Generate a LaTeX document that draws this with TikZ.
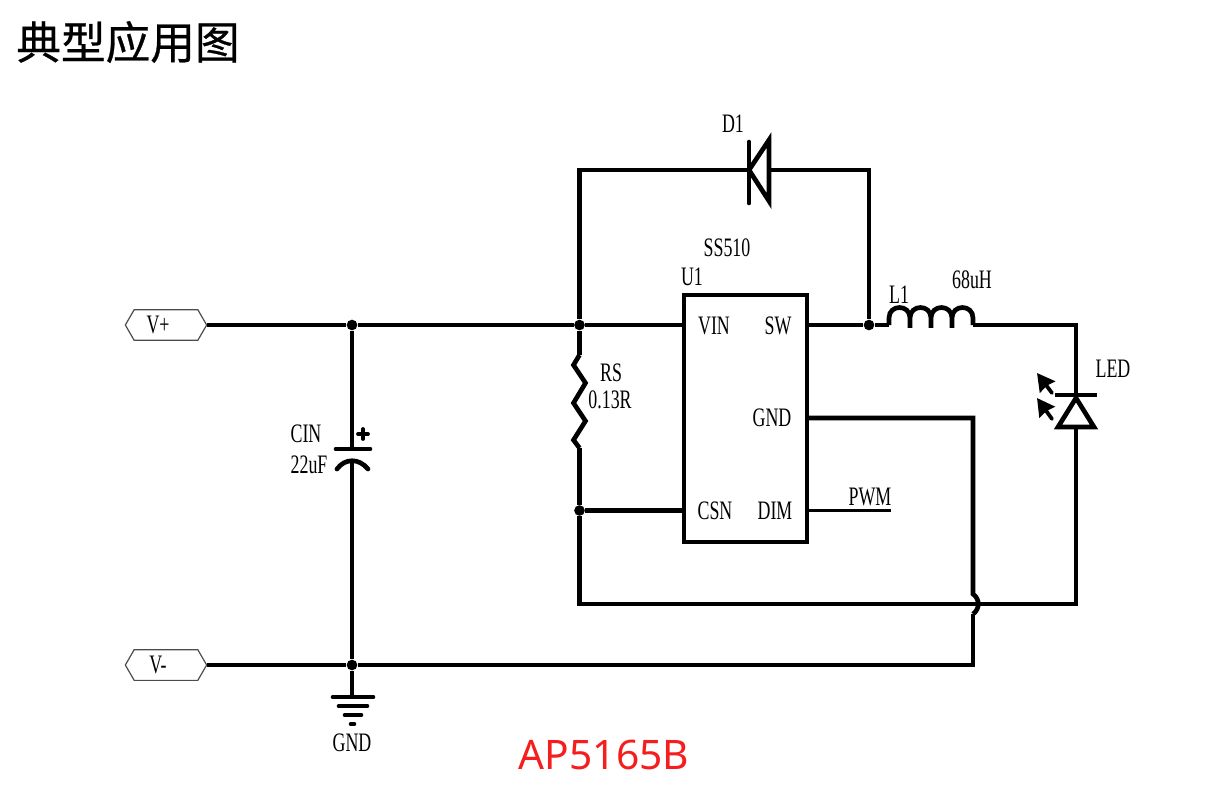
\documentclass[tikz,border=0pt]{standalone}
\usepackage{fontspec}
\setmainfont{Noto Sans}
\newfontfamily\cjk[FakeBold=0.6]{Noto Sans CJK SC}
\newfontfamily\lblfont[FakeStretch=0.67]{Liberation Serif}
\usetikzlibrary{shapes.symbols,arrows.meta}
\definecolor{partred}{RGB}{245,30,30}
\tikzset{
  wire/.style={line width=3.5pt},
  thinwire/.style={line width=2.6pt},
  lbl/.style={font=\lblfont\fontsize{20}{22}\selectfont,inner sep=0pt},
  port/.style={draw=black!70,line width=0.9pt,signal,signal to=west and east,signal pointer angle=120,
    minimum width=61pt,minimum height=23pt,inner sep=0pt,lbl},
  chip/.style={draw,line width=2.8pt,minimum width=92pt,minimum height=185pt,inner sep=0pt},
  dot/.style={circle,fill=black,minimum size=8pt,inner sep=0pt}
}
\begin{document}
\begin{tikzpicture}[x=0.75pt,y=-0.75pt]
  \useasboundingbox (0,0) rectangle (1205,794);
  \node[font=\cjk\fontsize{33.5}{36}\selectfont,inner sep=0pt] (title) at (128,42) {典型应用图};
  \node[font=\fontsize{30.5}{32}\selectfont,text=partred,inner sep=0pt] (partno) at (604,755) {AP5165B};
  % ports and chip
  \node[port] (vplus) at (166,325) {\hspace*{-12pt}V+};
  \node[port] (vminus) at (166,665) {\hspace*{-12pt}V-};
  \node[chip] (U1) at (745.5,418.5) {};
  \node[lbl] (pinVIN) at (714,326) {VIN};
  \node[lbl] (pinSW) at (778,326) {SW};
  \node[lbl] (pinGND) at (772,418) {GND};
  \node[lbl] (pinCSN) at (715,511) {CSN};
  \node[lbl] (pinDIM) at (775,511) {DIM};
  \node[lbl] (lblU1) at (692,277) {U1};
  \node[lbl] (lblSS) at (727,248) {SS510};
  \node[lbl] (lblL1) at (899,295) {L1};
  \node[lbl] (lblLH) at (972,280) {68uH};
  \node[lbl] (lblLED) at (1113,369) {LED};
  \node[lbl] (lblD1) at (733,124) {D1};
  \node[lbl] (lblRS) at (611,373) {RS};
  \node[lbl] (lblR) at (610,400) {0.13R};
  \node[lbl] (lblCIN) at (306,434) {CIN};
  \node[lbl] (lblC) at (309,465) {22uF};
  \node[lbl] (lblPWM) at (870,497) {PWM};
  \node[lbl] (lblGND) at (352,743) {GND};
  % junctions
  \node[dot] (j1) at (352,325) {};
  \node[dot] (j2) at (579.5,325) {};
  \node[dot] (j3) at (869,325) {};
  \node[dot] (j4) at (579.5,510.5) {};
  \node[dot] (j5) at (352,665) {};
  \coordinate (vin) at (683,325);
  \coordinate (sw) at (808,325);
  \coordinate (gnd) at (808,418);
  \coordinate (csn) at (683,510.5);
  \coordinate (dim) at (808,510.5);
  \coordinate (pwm) at (891,510.5);
  \coordinate (dleft) at (579.5,170);
  \coordinate (dright) at (869,170);
  \coordinate (dk) at (749,170);
  \coordinate (da) at (769,170);
  \coordinate (lstart) at (889,325);
  \coordinate (lend) at (973,325);
  \coordinate (ledtop) at (1076,325);
  \coordinate (leda) at (1076,396);
  \coordinate (ledk) at (1076,429);
  \coordinate (ledbot) at (1076,604);
  \coordinate (retleft) at (579.5,604);
  \coordinate (gndtop) at (973,418);
  \coordinate (gndbot) at (973,665);
  \coordinate (hopa) at (973,594);
  \coordinate (hopb) at (973,614);
  \coordinate (rtop) at (579.5,355);
  \coordinate (rbot) at (579.5,448);
  \coordinate (ctop) at (352,449);
  \coordinate (cbot) at (352,460);
  \coordinate (earth) at (352,697);
  % wires
  \draw[wire] (vplus.east) -- (j1) -- (j2) -- (vin);
  \draw[wire] (vminus.east) -- (j5) -- (gndbot) -- (hopb);
  \draw[wire] (hopb) .. controls (980,609) and (980,599) .. (hopa) -- (gndtop) -- (gnd);
  \draw[wire] (j2) -- (dleft) -- (dk);
  \draw[wire] (da) -- (dright) -- (j3);
  \draw[wire] (sw) -- (j3) -- (lstart);
  \draw[wire] (lstart) -- (889,318)
    .. controls (889,304) and (910,304) .. (910,318)
    .. controls (910,331) and (910,331) .. (910,318)
    .. controls (910,304) and (931,304) .. (931,318)
    .. controls (931,331) and (931,331) .. (931,318)
    .. controls (931,304) and (952,304) .. (952,318)
    .. controls (952,331) and (952,331) .. (952,318)
    .. controls (952,304) and (973,304) .. (973,318) -- (lend);
  \draw[wire] (lend) -- (ledtop) -- (leda);
  \draw[wire] (ledk) -- (ledbot) -- (retleft) -- (j4);
  \draw[wire] (j4) -- (rbot);
  \draw[wire] (rtop) -- (j2);
  \draw[wire,line join=miter] (rtop) -- (573.5,365) -- (585.5,383) -- (573.5,403) -- (585.5,421) -- (573.5,440) -- (rbot);
  \draw[wire] (j4) -- (csn);
  \draw[thinwire] (dim) -- (pwm);
  \draw[wire] (j1) -- (ctop);
  \draw[wire] (cbot) -- (j5);
  \draw[wire] (j5) -- (earth);
  % D1
  \draw[wire,line cap=round] (749,142) -- (749,203);
  \draw[wire,line join=miter] (749,170) -- (769,140) -- (769,201) -- cycle;
  % CIN
  \draw[wire,line cap=round] (336,449) -- (370,449);
  \draw[wire,line cap=round] (337,469) .. controls (345,458) and (359,458) .. (368,469);
  \draw[line width=2.8pt,line cap=round] (358,434) -- (368,434);
  \draw[line width=2.8pt,line cap=round] (363,429) -- (363,439);
  % LED
  \draw[wire,line cap=butt] (1055,395) -- (1097,395);
  \draw[wire,line join=miter] (1076,398) -- (1094,427) -- (1058,427) -- cycle;
  \draw[line width=2.8pt,line cap=round,-{Stealth[length=13pt,width=14pt,inset=1pt]}] (1052,393) -- (1037,373);
  \draw[line width=2.8pt,line cap=round,-{Stealth[length=13pt,width=14pt,inset=1pt]}] (1052,419) -- (1037,398);
  % GND
  \draw[wire,line cap=round] (333,697) -- (373,697);
  \draw[wire,line cap=round] (339,706) -- (367,706);
  \draw[wire,line cap=round] (345,715) -- (361,715);
  \draw[wire,line cap=round] (351,724) -- (354,724);
\end{tikzpicture}
\end{document}
